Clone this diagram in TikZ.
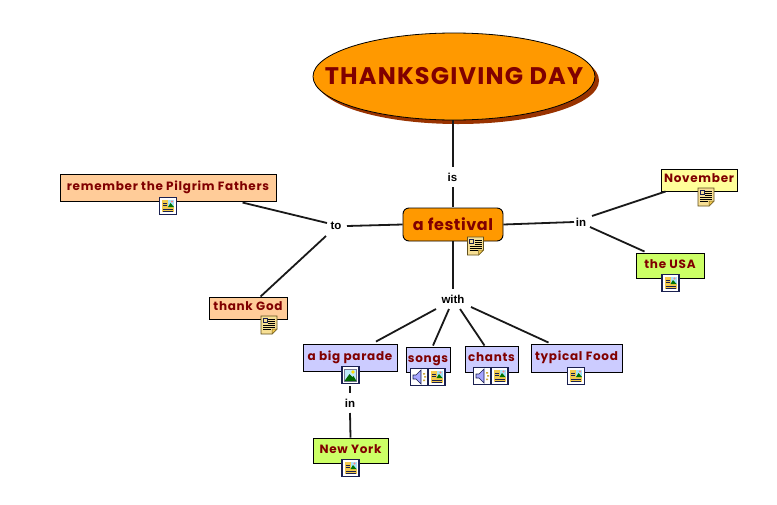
\documentclass[tikz,border=0pt]{standalone}
\usepackage{fontspec}
\setmainfont{Liberation Sans}
\newfontfamily\comic[LetterSpace=6]{Poppins}
\newfontfamily\comicbig[LetterSpace=3.5]{Poppins}
\newfontfamily\comictitle[LetterSpace=5]{Poppins}
\usetikzlibrary{shapes.geometric}
\definecolor{ink}{HTML}{800000}
\definecolor{orangeF}{HTML}{FF9900}
\definecolor{shadowc}{HTML}{993300}
\definecolor{peach}{HTML}{FFCC99}
\definecolor{lemon}{HTML}{FFFF99}
\definecolor{lime}{HTML}{CCFF66}
\definecolor{lav}{HTML}{CCCCFF}
\definecolor{navy}{HTML}{1A2050}
\definecolor{docy}{HTML}{F2C94C}
\tikzset{
  x=1pt,y=-1pt,
  concept/.style={draw=black,line width=0.9pt,inner sep=0pt,text=ink,text height=9pt,text depth=4pt,font=\comic\bfseries\fontsize{12}{14}\selectfont},
  linkw/.style={inner sep=0pt,font=\bfseries\fontsize{11.5}{13}\selectfont},
  link/.style={draw=black!90,line width=1.8pt},
  note/.pic={
    \fill[docy!60!white,draw=black!60!docy,line width=0.7pt] (-8,-9)--(8,-9)--(8,4)--(3,9)--(-8,9)--cycle;
    \fill[docy,draw=black!50!docy,line width=0.5pt] (8,4)--(3,4)--(3,9)--cycle;
    \draw[navy,line width=0.7pt] (-6,-6.5) rectangle (-2,-2.5);
    \foreach \yy in {-6,-4,-2}{\draw[black,line width=0.8pt] (-1,\yy)--(6,\yy);}
    \foreach \yy in {0,2,4}{\draw[black,line width=0.8pt] (-6,\yy)--(\ifnum\yy=4 2\else 6\fi,\yy);}
  },
  imgdoc/.pic={
    \fill[white,draw=navy,line width=1.2pt] (-8.5,-8.5) rectangle (8.5,8.5);
    \fill[docy] (-6,-6) rectangle (6,6);
    \fill[cyan!35!white] (0,-6) rectangle (6,1);
    \fill[green!45!black] (0,1)--(2.5,-3)--(6,1)--cycle;
    \fill[red!50!white] (4,-4.5) circle (1.1);
    \foreach \yy in {-3,-1}{\draw[navy,line width=0.7pt] (-5,\yy)--(-1,\yy);}
    \foreach \yy in {3,5}{\draw[navy,line width=0.7pt] (-5,\yy)--(5,\yy);}
  },
  imgpic/.pic={
    \fill[white,draw=navy,line width=1.2pt] (-8.5,-8.5) rectangle (8.5,8.5);
    \fill[cyan!25!white,draw=navy!60,line width=0.4pt] (-6,-6) rectangle (6,6);
    \fill[green!40!black] (-6,6)--(-1,-1)--(2,2)--(3,1)--(6,6)--cycle;
    \fill[yellow!80!orange] (2.5,-3) circle (1.8);
  },
  speaker/.pic={
    \fill[white,draw=navy,line width=1.2pt] (-8.5,-8.5) rectangle (8.5,8.5);
    \fill[blue!35!white,draw=navy,line width=0.6pt] (-6,-2)--(-3,-2)--(2,-7)--(2,7)--(-3,2)--(-6,2)--cycle;
    \fill[docy!85!black] (4,-4) rectangle (6,-2.5) (5,-1) rectangle (7,0.5) (4,2.5) rectangle (6,4);
  }
}
\begin{document}
\begin{tikzpicture}
\useasboundingbox (0,0) rectangle (777,504);
\fill[white] (0,0) rectangle (777,504);
% concepts
\fill[shadowc] (458,80.5) ellipse [x radius=141,y radius=43.5];
\node[ellipse,draw=black,line width=0.8pt,fill=orangeF,text=ink,inner sep=0pt,minimum width=282pt,minimum height=87pt,font=\comictitle\bfseries\fontsize{24}{26}\selectfont] (title) at (454,76.5) {\makebox[0pt]{\raisebox{-2.5pt}{THANKSGIVING DAY}}};
\node[concept,fill=orangeF,rounded corners=6pt,minimum width=100pt,minimum height=33pt,text height=12pt,text depth=0pt,font=\comicbig\bfseries\fontsize{16}{20}\selectfont] (fest) at (453,224.5) {a festival};
\node[concept,fill=peach,minimum width=216pt,minimum height=27pt] (rem) at (168,187.5) {remember the Pilgrim Fathers};
\node[concept,fill=peach,minimum width=78pt,minimum height=22pt] (god) at (248,308) {thank God};
\node[concept,fill=lemon,minimum width=76pt,minimum height=22pt] (nov) at (699,180) {November};
\node[concept,fill=lime,minimum width=68pt,minimum height=25pt] (usa) at (670,265.5) {the USA};
\node[concept,fill=lav,minimum width=94pt,minimum height=27pt] (par) at (350,357.5) {a big parade};
\node[concept,fill=lav,minimum width=44pt,minimum height=25pt] (son) at (428,359.5) {songs};
\node[concept,fill=lav,minimum width=53pt,minimum height=26pt] (cha) at (491.5,359) {chants};
\node[concept,fill=lav,minimum width=91pt,minimum height=28pt] (foo) at (576.5,358) {typical Food};
\node[concept,fill=lime,minimum width=75pt,minimum height=25pt] (ny) at (350.5,450.5) {New York};
% linking phrases
\node[linkw] (is) at (452.5,177) {is};
\node[linkw] (to) at (336,226) {to};
\node[linkw] (in1) at (581,222) {in};
\node[linkw] (with) at (453,299) {with};
\node[linkw] (in2) at (350,403) {in};
% connectors
\draw[link] ([shift={(-1,0)}]title.south) -- ([shift={(0.5,-10)}]is.center);
\draw[link] ([shift={(0.5,10)}]is.center) -- ([shift={(0,-0.5)}]fest.north);
\draw[link] (fest.south) -- ([shift={(0,-10)}]with.center);
\draw[link] ([shift={(183,29)}]rem.north west) -- ([shift={(-9,-3)}]to.center);
\draw[link] ([shift={(-10,10)}]to.center) -- ([shift={(52,0)}]god.north west);
\draw[link] ([shift={(11,0)}]to.center) -- (fest.west);
\draw[link] (fest.east) -- ([shift={(-7,0)}]in1.center);
\draw[link] ([shift={(11,-6)}]in1.center) -- ([shift={(5,0)}]nov.south west);
\draw[link] ([shift={(9,5)}]in1.center) -- ([shift={(9,-1)}]usa.north west);
\draw[link] ([shift={(-17,10)}]with.center) -- ([shift={(26,-2)}]par.north);
\draw[link] ([shift={(-4,10)}]with.center) -- ([shift={(5,-1)}]son.north);
\draw[link] ([shift={(7,10)}]with.center) -- ([shift={(-7,0)}]cha.north);
\draw[link] ([shift={(18,8)}]with.center) -- ([shift={(-28,-1)}]foo.north);
\draw[link] ([shift={(0,-17)}]in2.center) -- ([shift={(0,-10)}]in2.center);
\draw[link] ([shift={(0,10)}]in2.center) -- (ny.north);
% icons
\pic at (168,206) {imgdoc};
\pic at (269,325) {note};
\pic at (475.5,246) {note};
\pic at (706,197) {note};
\pic at (670.5,283) {imgdoc};
\pic at (350.5,375) {imgpic};
\pic at (419,377) {speaker};
\pic at (436.5,377) {imgdoc};
\pic at (482,376) {speaker};
\pic at (499.5,376) {imgdoc};
\pic at (576,376) {imgdoc};
\pic at (350.5,468) {imgdoc};
\end{tikzpicture}
\end{document}
